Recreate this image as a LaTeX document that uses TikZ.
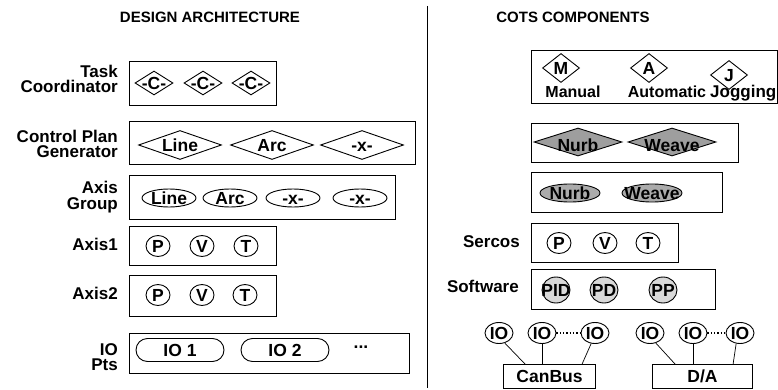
\documentclass[tikz,border=0pt]{standalone}
\usepackage{fontspec}
\setmainfont{Liberation Sans}
\usetikzlibrary{shapes.geometric}

\begin{document}
\begin{tikzpicture}[
    x=1pt, y=-1pt,
    every node/.style={font=\bfseries\fontsize{17.5}{17.5}\selectfont},
    every label/.style={text height=12.5pt, text depth=0pt, inner sep=0pt},
    head/.style={font=\bfseries\fontsize{15}{15}\selectfont},
    box/.style={draw, line width=1.1pt, anchor=north west, inner sep=0pt},
    boxlbl/.style={anchor=east, align=right, inner sep=0pt,
                   font=\bfseries\fontsize{17}{15.5}\selectfont},
    dmd/.style={draw, diamond, inner sep=0pt, line width=0.9pt},
    oval/.style={draw, ellipse, inner sep=0pt, line width=0.9pt},
    pill/.style={draw, rectangle, rounded corners=11.5pt, inner sep=0pt, line width=0.9pt,
                 minimum width=88pt, minimum height=23pt},
    wire/.style={line width=0.7pt},
]
\useasboundingbox (0,0) rectangle (778,390);

% === Headers and divider ===
\node[head] (hdesign) at (210,17) {DESIGN ARCHITECTURE};
\node[head] (hcots) at (573,17) {COTS COMPONENTS};
\coordinate (divtop) at (427,6);
\coordinate (divbot) at (427,388);
\draw[line width=0.8pt] (divtop) -- (divbot);

% === Design architecture (left) ===
% Task coordinator
\node[boxlbl] (ltask) at (118,79) {Task\\Coordinator};
\node[box, minimum width=147pt, minimum height=44pt] (task) at (129,61) {};
\foreach \xc [count=\i] in {154,203,251}
    \node[dmd, minimum width=38pt, minimum height=24pt, label={center:-C-}] (tc\i) at (\xc,83) {};

% Control plan generator
\node[boxlbl] (lcpg) at (118,144) {Control Plan\\Generator};
\node[box, minimum width=286pt, minimum height=43pt] (cpg) at (129,121) {};
\foreach \xc/\txt [count=\i] in {180/Line,272/Arc,362/-x-}
    \node[dmd, minimum width=83pt, minimum height=29pt, label={center:\txt}] (cp\i) at (\xc,145) {};

% Axis group
\node[boxlbl] (lagrp) at (118,197) {Axis\\Group};
\node[box, minimum width=266pt, minimum height=44pt] (agrp) at (129,175) {};
\foreach \xc/\txt [count=\i] in {169/Line,230/Arc,293/-x-,360/-x-}
    \node[oval, minimum width=54pt, minimum height=18pt, label={center:\txt}] (ag\i) at (\xc,198) {};

% Axis1 and Axis2
\node[boxlbl] (lax1) at (118,244) {Axis1};
\node[box, minimum width=147pt, minimum height=39pt] (ax1) at (129,226) {};
\foreach \xc/\txt [count=\i] in {158/P,202/V,246/T}
    \node[oval, minimum width=24pt, minimum height=21pt, label={center:\txt}] (aa\i) at (\xc,246) {};

\node[boxlbl] (lax2) at (118,293) {Axis2};
\node[box, minimum width=147pt, minimum height=41pt] (ax2) at (129,275) {};
\foreach \xc/\txt [count=\i] in {158/P,202/V,245/T}
    \node[oval, minimum width=24pt, minimum height=21pt, label={center:\txt}] (ab\i) at (\xc,295) {};

% IO points
\node[boxlbl] (liopts) at (118,357) {IO\\Pts};
\node[box, minimum width=280pt, minimum height=40pt] (iopts) at (129,333) {};
\node[pill] (io1) at (180,350) {IO 1};
\node[pill] (io2) at (285,350) {IO 2};
\node (iodots) at (361,347) {...};

% === COTS components (right) ===
% Operating modes
\node[box, minimum width=246pt, minimum height=53pt] (modes) at (531,50) {};
\node[dmd, minimum width=37pt, minimum height=29pt, label={center:M}] (mm) at (561,68) {};
\node[dmd, minimum width=37pt, minimum height=29pt, label={center:A}] (ma) at (649,68) {};
\node[dmd, minimum width=37pt, minimum height=29pt, label={center:J}] (mj) at (729,75) {};
\node[anchor=base, font=\bfseries\fontsize{16}{16}\selectfont] (tman) at (573,98) {Manual};
\node[anchor=base, font=\bfseries\fontsize{16}{16}\selectfont] (tauto) at (667,98) {Automatic};
\node[anchor=base west, inner sep=0pt, font=\bfseries\fontsize{17}{17}\selectfont] (tjog) at (710,98) {Jogging};

% Nurb / Weave plans
\node[box, minimum width=207pt, minimum height=39pt] (nurbd) at (531,123) {};
\foreach \xc/\txt [count=\i] in {578/Nurb,672/Weave}
    \node[dmd, fill=black!38, minimum width=88pt, minimum height=28pt,
          label={[yshift=-3pt]center:\txt}] (nd\i) at (\xc,142) {};

\node[box, minimum width=191pt, minimum height=40pt] (nurbe) at (531,172) {};
\foreach \xc/\txt [count=\i] in {570/Nurb,652/Weave}
    \node[oval, fill=black!33, minimum width=60pt, minimum height=18pt, label={center:\txt}] (ne\i) at (\xc,193) {};

% Sercos
\node[boxlbl] (lsercos) at (520,242) {Sercos};
\node[box, minimum width=147pt, minimum height=39pt] (sercos) at (531,223) {};
\foreach \xc/\txt [count=\i] in {559/P,605/V,648/T}
    \node[oval, minimum width=24pt, minimum height=21pt, label={center:\txt}] (sc\i) at (\xc,243) {};

% Software
\node[boxlbl] (lsoft) at (519,286) {Software};
\node[box, minimum width=184pt, minimum height=40pt] (soft) at (531,269) {};
\foreach \xc/\txt [count=\i] in {556/PID,604/PD,663/PP}
    \node[oval, fill=black!15, minimum width=28pt, minimum height=26pt, label={center:\txt}] (sw\i) at (\xc,290) {};

% CanBus and D/A with their IO
\node[box, minimum width=92pt, minimum height=24pt] (canbus) at (503,364) {CanBus};
\node[box, minimum width=100pt, minimum height=24pt] (da) at (652,364) {D/A};
\foreach \xc [count=\i] in {499,542,595}
    \node[oval, minimum width=28pt, minimum height=21pt, label={center:IO}] (cb\i) at (\xc,333) {};
\foreach \xc [count=\i] in {650,693,740}
    \node[oval, minimum width=28pt, minimum height=21pt, label={center:IO}] (dd\i) at (\xc,333) {};

\draw[wire] (cb1.300) -- ([xshift=22pt]canbus.north west);
\draw[wire] (cb2.south) -- (cb2.south |- canbus.north);
\draw[wire] (cb3.250) -- ([xshift=-14pt]canbus.north east);
\draw[dotted, line width=1.3pt] (cb2.east) -- (cb3.west);

\draw[wire] (dd1.300) -- ([xshift=23pt]da.north west);
\draw[wire] (dd2.south) -- (dd2.south |- da.north);
\draw[wire] (dd3.250) -- ([xshift=-20pt]da.north east);
\draw[dotted, line width=1.3pt] (dd2.east) -- (dd3.west);

\end{tikzpicture}
\end{document}
